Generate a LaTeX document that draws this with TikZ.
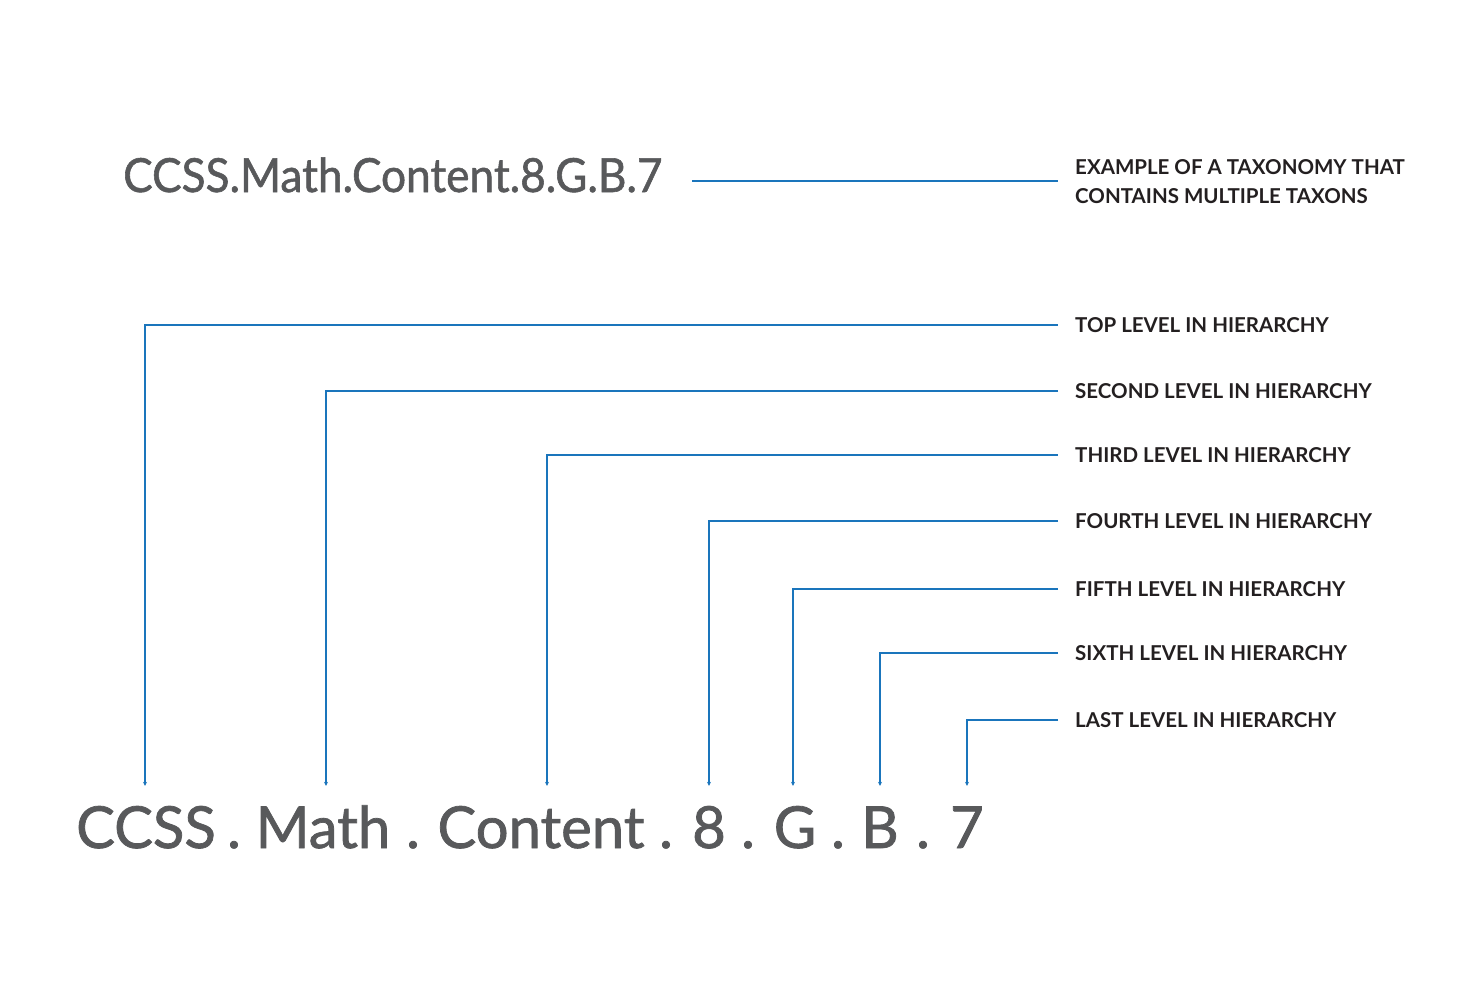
\documentclass[tikz,border=0pt]{standalone}
\usepackage{fontspec}
\setmainfont{Lato}
\newfontfamily\grayfont[FakeBold=1.3]{Lato}
\newfontfamily\grayfontnarrow[FakeBold=1.2,FakeStretch=0.94]{Lato}
\usetikzlibrary{arrows.meta}
\definecolor{linkblue}{HTML}{1A75BC}
\definecolor{codegray}{HTML}{58595B}
\definecolor{labeldark}{HTML}{231F20}
\begin{document}
\begin{tikzpicture}[x=1pt,y=-1pt,
  lblbase/.style={anchor=west,inner xsep=17pt,inner ysep=0pt,
    font=\fontsize{20.5}{29}\selectfont\bfseries,text=labeldark,align=left},
  lbl/.style={lblbase,text height=15pt,text depth=0pt},
  part/.style={anchor=base,inner xsep=0pt,inner ysep=20pt,text height=42pt,text depth=0pt,
    font=\grayfont\fontsize{58}{60}\selectfont,text=codegray},
  dotn/.style={anchor=base,inner sep=0pt,font=\grayfont\fontsize{58}{60}\selectfont,text=codegray},
  conn/.style={draw=linkblue,line width=2pt,-{Stealth[length=4pt,width=4pt]}},
  plain/.style={draw=linkblue,line width=2pt}]
\useasboundingbox (0,0) rectangle (1467,997);
% top example
\node[anchor=base west,inner xsep=0pt,font=\grayfontnarrow\fontsize{47}{50}\selectfont,text=codegray] (full) at (123,192) {CCSS.Math.Content.8.G.B.7};
\node[lblbase] (ex) at (1058,182) {EXAMPLE OF A TAXONOMY THAT\\CONTAINS MULTIPLE TAXONS};
\coordinate (fullend) at (692,181);
\draw[plain] (fullend) -- (fullend -| ex.west);
% parts
\node[part] (p1) at (146,848) {CCSS};
\node[dotn] (d1) at (234,848) {.};
\node[part] (p2) at (323,848) {Math};
\node[dotn] (d2) at (413,848) {.};
\node[part] (p3) at (541,848) {Content};
\node[dotn] (d3) at (666,848) {.};
\node[part] (p4) at (709,848) {8};
\node[dotn] (d4) at (748,848) {.};
\node[part] (p5) at (795,848) {G};
\node[dotn] (d5) at (838,848) {.};
\node[part] (p6) at (880,848) {B};
\node[dotn] (d6) at (923,848) {.};
\node[part] (p7) at (967,848) {7};
% labels
\node[lbl] (l1) at (1058,325) {TOP LEVEL IN HIERARCHY};
\node[lbl] (l2) at (1058,391) {SECOND LEVEL IN HIERARCHY};
\node[lbl] (l3) at (1058,455) {THIRD LEVEL IN HIERARCHY};
\node[lbl] (l4) at (1058,521) {FOURTH LEVEL IN HIERARCHY};
\node[lbl] (l5) at (1058,589) {FIFTH LEVEL IN HIERARCHY};
\node[lbl] (l6) at (1058,653) {SIXTH LEVEL IN HIERARCHY};
\node[lbl] (l7) at (1058,720) {LAST LEVEL IN HIERARCHY};
% connectors
\draw[conn] (l1.west) -| ([xshift=-1pt]p1.north);
\draw[conn] (l2.west) -| ([xshift=3pt]p2.north);
\draw[conn] (l3.west) -| ([xshift=6pt]p3.north);
\draw[conn] (l4.west) -| (p4.north);
\draw[conn] (l5.west) -| ([xshift=-2pt]p5.north);
\draw[conn] (l6.west) -| (p6.north);
\draw[conn] (l7.west) -| (p7.north);
\end{tikzpicture}
\end{document}
